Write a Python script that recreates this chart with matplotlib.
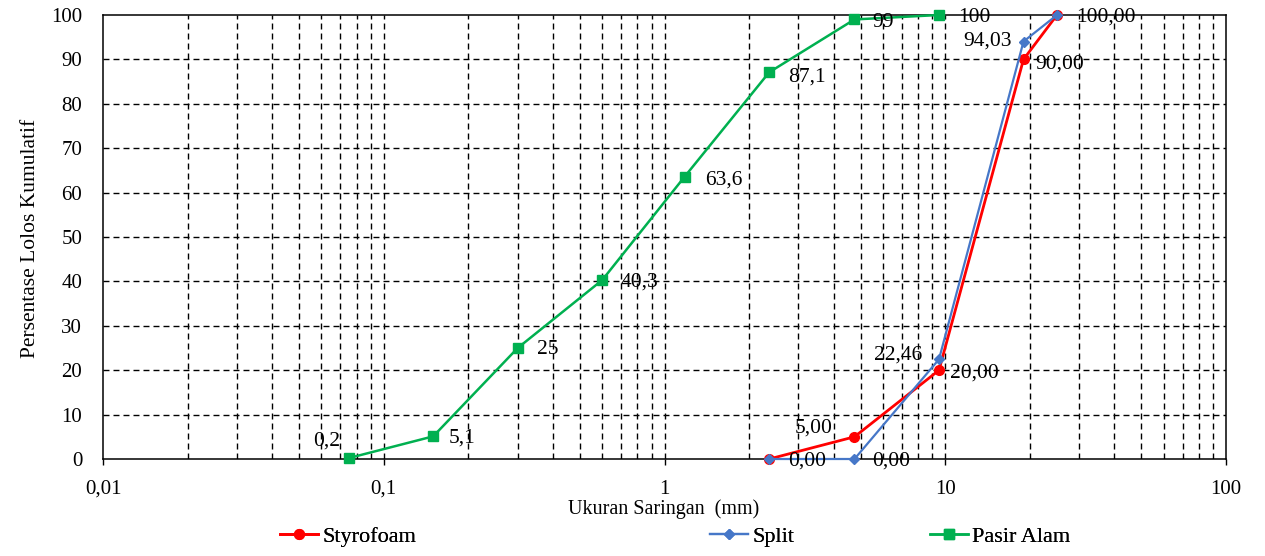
import matplotlib
matplotlib.use("Agg")
import matplotlib.pyplot as plt
from matplotlib.lines import Line2D
from matplotlib.font_manager import FontProperties

# ---------------- data ----------------
pasir_x = [0.075, 0.15, 0.3, 0.6, 1.18, 2.36, 4.75, 9.5]
pasir_y = [0.2, 5.1, 25, 40.3, 63.6, 87.1, 99, 100]

styro_x = [2.36, 4.75, 9.5, 19, 25]
styro_y = [0.0, 5.0, 20.0, 90.0, 100.0]

split_x = [2.36, 4.75, 9.5, 19, 25]
split_y = [0.0, 0.0, 22.46, 94.03, 100.0]

xtick_vals = [0.01, 0.1, 1, 10, 100]
xtick_labels = ["0,01", "0,1", "1", "10", "100"]
ytick_vals = [0, 10, 20, 30, 40, 50, 60, 70, 80, 90, 100]

series_names = ["Styrofoam", "Split", "Pasir Alam"]

# ---------------- style ----------------
FONT = "Liberation Serif"
plt.rcParams["font.family"] = [FONT, "DejaVu Serif"]
RED = "#FF0000"
BLUE = "#4677C8"
GREEN = "#00B050"
FS = 15
LFS = 15.5

W, H = 1265, 556
fig = plt.figure(figsize=(W / 100, H / 100), dpi=100)
L, R, T, B = 103, 1226, 15, 459
ax = fig.add_axes([L / W, (H - B) / H, (R - L) / W, (B - T) / H])

ax.set_xscale("log")
ax.set_xlim(0.01, 100)
ax.set_ylim(0, 100)

# grid: all dashed
dash = (0, (4.3, 2.9))
for yv in ytick_vals[1:-1]:
    ax.axhline(yv, color="black", lw=1.0, linestyle=dash, zorder=1)
for dec in [0.01, 0.1, 1, 10]:
    for m in range(1, 10):
        xv = dec * m
        if xv <= 0.01 or xv >= 100:
            continue
        ax.axvline(xv, color="black", lw=1.0, linestyle=dash, zorder=1)

for sp in ax.spines.values():
    sp.set_color("black")
    sp.set_linewidth(1.1)

ax.set_xticks(xtick_vals)
ax.set_xticklabels(xtick_labels, fontsize=FS)
ax.xaxis.set_minor_locator(matplotlib.ticker.NullLocator())
ax.tick_params(axis="x", which="major", direction="out", length=4, width=1, pad=11)
ax.set_yticks(ytick_vals)
ax.set_yticklabels([str(v) for v in ytick_vals], fontsize=FS)
ax.tick_params(axis="y", length=0, pad=15)

# ---------------- series ----------------
ax.plot(styro_x, styro_y, color=RED, lw=2.0, marker="o", ms=7, zorder=4, clip_on=False)
ax.plot(split_x, split_y, color=BLUE, lw=1.6, marker="D", ms=5, zorder=5, clip_on=False)
ax.plot(pasir_x, pasir_y, color=GREEN, lw=1.8, marker="s", ms=6.5, zorder=3, clip_on=False)


def fmt2(v):
    return f"{v:.2f}".replace(".", ",")


def fmtg(v):
    return f"{v:g}".replace(".", ",")


def lab(x, y, text, dx, dy, ha):
    ax.annotate(text, (x, y), xytext=(dx * 0.72, dy * 0.72), textcoords="offset points",
                ha=ha, va="center", fontsize=LFS, color="black", zorder=6,
                annotation_clip=False)


# Pasir Alam labels (dx, dy in pixels)
pasir_off = [(-9, 17, "right"), (15, -2, "left"), (19, -1, "left"), (18, -2, "left"),
             (20, -3, "left"), (19, -5, "left"), (18, -3, "left"), (19, -3, "left")]
for x, y, (dx, dy, ha) in zip(pasir_x, pasir_y, pasir_off):
    lab(x, y, fmtg(y), dx, dy, ha)

styro_off = [(19, -2, "left"), (-22, 9, "right"), (11, -3, "left"), (12, -5, "left"), (19, -2, "left")]
for x, y, (dx, dy, ha) in zip(styro_x, styro_y, styro_off):
    lab(x, y, fmt2(y), dx, dy, ha)

split_off = [None, (18, -2, "left"), (-17, 4, "right"), (-12, 0, "right"), None]
for x, y, off in zip(split_x, split_y, split_off):
    if off is None:
        continue
    dx, dy, ha = off
    lab(x, y, fmt2(y), dx, dy, ha)

# axis titles
fig.text(664 / W, 1 - 509 / H, "Ukuran Saringan  (mm)", ha="center", va="center", fontsize=14.5)
fig.text(31 / W, 1 - 238 / H, "Persentase Lolos Kumulatif", ha="center", va="center",
         rotation=90, fontsize=15.5)

# legend (three separate entries, positioned like the original)
handles = [
    Line2D([], [], color=RED, lw=2.0, marker="o", ms=7),
    Line2D([], [], color=BLUE, lw=1.6, marker="D", ms=5),
    Line2D([], [], color=GREEN, lw=1.8, marker="s", ms=6.5),
]
leg_x = [280, 710, 930]
for h, name, lx in zip(handles, series_names, leg_x):
    lg = fig.legend([h], [name], loc="center left", bbox_to_anchor=(lx / W, 1 - 537 / H),
                    frameon=False, prop=FontProperties(family=FONT, size=16),
                    handlelength=1.7, handletextpad=0.2,
                    borderpad=0, borderaxespad=0)
    fig.add_artist(lg)

fig.savefig("out.png", dpi=100)
